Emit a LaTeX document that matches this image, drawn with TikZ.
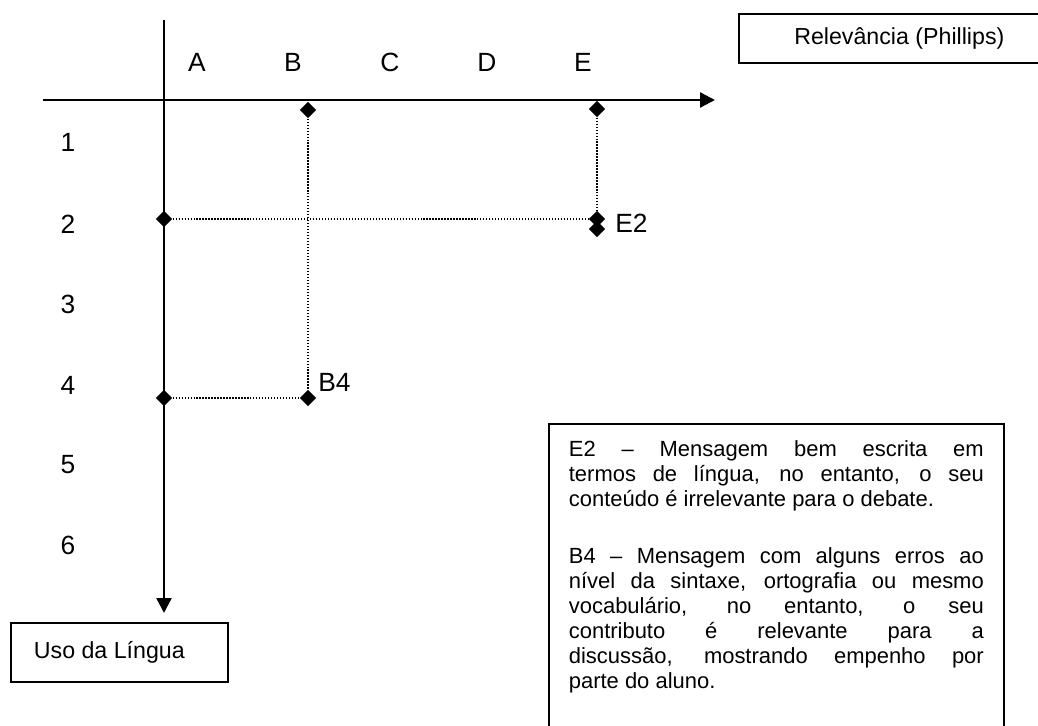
\documentclass[tikz,border=0pt]{standalone}
\usepackage{fontspec}
\setmainfont{Liberation Sans}
\usepackage{xcolor}
\definecolor{inkDark}{HTML}{000000}
\usepackage{tikz}
\usetikzlibrary{shapes,arrows,positioning,calc,arrows.meta,shapes.geometric}
\setlength{\parindent}{0pt}
\tolerance=10000
\hbadness=10000
\tikzset{%
  axisArrow/.style={%
    -{Triangle[length=8.5pt,width=8.5pt]},
    line width=1.3pt,
    color=inkDark
  },
  guideLine/.style={%
    line width=0.6pt,
    dash pattern=on 0.7pt off 1pt,
    color=inkDark
  },
  markDot/.style={%
    diamond,
    fill=inkDark,
    inner sep=0pt,
    minimum width=0.33cm,
    minimum height=0.33cm
  },
  axisLabel/.style={%
    inner sep=0pt,
    font=\fontsize{15}{18}\selectfont
  },
  pointLabel/.style={%
    inner sep=0pt,
    anchor=west,
    font=\fontsize{15}{18}\selectfont
  },
  titleBox/.style={%
    rectangle,
    draw=inkDark,
    line width=1pt,
    inner sep=0pt,
    font=\fontsize{13.2}{16}\selectfont
  },
  noteBox/.style={%
    rectangle,
    draw=inkDark,
    line width=1pt,
    inner xsep=0.4cm,
    inner ysep=0.34cm,
    text width=8.3cm,
    align=justify,
    font=\fontsize{12.5}{14.2}\selectfont
  }
}

\begin{document}
\begin{tikzpicture}[x=0.02cm, y=-0.02cm]
  \useasboundingbox (0,0) rectangle (1038,726);

  % axes
  \coordinate (xFrom) at (43,100);
  \coordinate (xTo) at (715,100);
  \coordinate (yFrom) at (164,20);
  \coordinate (yTo) at (164,613);
  \draw[axisArrow] (xFrom) -- (xTo);
  \draw[axisArrow] (yFrom) -- (yTo);

  % column and row labels
  \node[axisLabel] (colA) at (197,62) {A};
  \node[axisLabel] (colB) at (293,62) {B};
  \node[axisLabel] (colC) at (390,62) {C};
  \node[axisLabel] (colD) at (487,62) {D};
  \node[axisLabel] (colE) at (583,62) {E};
  \node[axisLabel] (rowOne) at (68,142) {1};
  \node[axisLabel] (rowTwo) at (68,224) {2};
  \node[axisLabel] (rowThree) at (68,304) {3};
  \node[axisLabel] (rowFour) at (68,385) {4};
  \node[axisLabel] (rowFive) at (68,465) {5};
  \node[axisLabel] (rowSix) at (68,545) {6};

  % points
  \node[markDot] (bTop) at (308,110) {};
  \node[markDot] (eTop) at (597,109) {};
  \node[markDot] (yTwo) at (164,219) {};
  \node[markDot] (eTwo) at (597,219) {};
  \node[markDot] (eTwoLow) at (597,229) {};
  \node[markDot] (yFour) at (164,398) {};
  \node[markDot] (bFour) at (308,398) {};

  \draw[guideLine] (bTop) -- (bFour);
  \draw[guideLine] (yFour) -- (bFour);
  \draw[guideLine] (yTwo) -- (eTwo);
  \draw[guideLine] (eTop) -- (eTwo);

  \node[pointLabel] (eTwoLabel) at (615,223) {E2};
  \node[pointLabel] (bFourLabel) at (318,382) {B4};

  % boxes
  \node[titleBox, minimum width=6.14cm, minimum height=0.98cm, anchor=north west] (relevance) at (738,13) {\hspace*{0.28cm}Relevância (Phillips)};
  \node[titleBox, minimum width=4.34cm, minimum height=1.18cm, anchor=north west] (language) at (10,622) {Uso da Língua\hspace*{0.4cm}};
  \node[noteBox, anchor=north west] (notes) at (548,423) {%
    E2 – Mensagem bem escrita em\linebreak
    termos de língua, no entanto, o seu\linebreak
    conteúdo é irrelevante para o debate.\par\vspace{0.64cm}
    B4 – Mensagem com alguns erros ao\linebreak
    nível da sintaxe, ortografia ou mesmo\linebreak
    vocabulário, no entanto, o seu\linebreak
    contributo é relevante para a\linebreak
    discussão, mostrando empenho por\linebreak
    parte do aluno.\par\vspace{1cm}\null};
\end{tikzpicture}
\end{document}
